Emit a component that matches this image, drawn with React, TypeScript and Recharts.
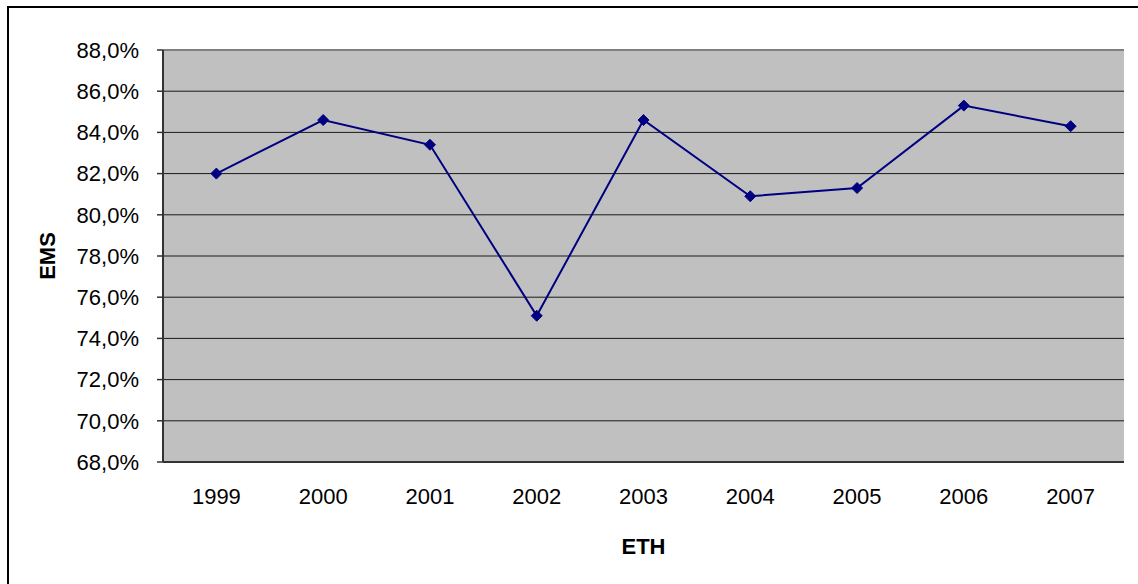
import { ComposedChart, Line, XAxis, YAxis, CartesianGrid, ReferenceLine } from "recharts";

const years = ["1999", "2000", "2001", "2002", "2003", "2004", "2005", "2006", "2007"];
const emsValues = [82.0, 84.6, 83.4, 75.1, 84.6, 80.9, 81.3, 85.3, 84.3];
const yTicks = [68, 70, 72, 74, 76, 78, 80, 82, 84, 86, 88];

const data = years.map((year, i) => ({ year, ems: emsValues[i] }));
const edgeTicks = Array.from({ length: years.length + 1 }, (_, i) => i);

const FONT = "'Liberation Sans', Arial, sans-serif";
const NAVY = "#000080";

const fmtPct = (v: number) => v.toFixed(1).replace(".", ",") + "%";

const Diamond = (props: any) => {
  const { cx, cy, index } = props;
  if (cx == null || cy == null) return null;
  const r = 5.5;
  return (
    <polygon
      key={`d-${index}`}
      points={`${cx},${cy - r} ${cx + r},${cy} ${cx},${cy + r} ${cx - r},${cy}`}
      fill={NAVY}
      stroke={NAVY}
      strokeWidth={1}
    />
  );
};

const App = () => {
  return (
    <div style={{ position: "absolute", left: 0, top: 0, width: 1138, height: 584, background: "#fff", fontFamily: FONT }}>
      <div
        style={{
          position: "absolute",
          left: 7,
          top: 6,
          width: 1160,
          height: 600,
          border: "2px solid #000",
          boxSizing: "border-box",
        }}
      />
      <div style={{ position: "absolute", left: 0, top: 0 }}>
        <ComposedChart width={1138} height={584} data={data} margin={{ top: 50, right: 14, bottom: 0, left: 0 }}>
          <CartesianGrid vertical={false} fill="#C0C0C0" fillOpacity={1} stroke="#1a1a1a" strokeWidth={1} />
          <XAxis
            xAxisId="edges"
            type="number"
            domain={[0, years.length]}
            allowDataOverflow
            ticks={edgeTicks}
            tick={false}
            axisLine={false}
            tickLine={{ stroke: "#333", strokeWidth: 1.5 }}
            tickSize={7}
            height={0}
          />
          <XAxis
            dataKey="year"
            scale="band"
            height={122}
            tickLine={false}
            tickSize={0}
            tickMargin={26}
            axisLine={{ stroke: "#333", strokeWidth: 2 }}
            tick={{ fill: "#000", fontSize: 22, fontFamily: FONT }}
            interval={0}
            label={{
              content: (p: any) => (
                <text
                  x={p.viewBox.x + p.viewBox.width / 2}
                  y={546}
                  textAnchor="middle"
                  dominantBaseline="central"
                  fontSize={22}
                  fontWeight="bold"
                  fontFamily={FONT}
                  fill="#000"
                >
                  ETH
                </text>
              ),
            }}
          />
          <YAxis
            width={163}
            domain={[68, 88]}
            ticks={yTicks}
            interval={0}
            tickFormatter={fmtPct}
            tickSize={6}
            tickMargin={18}
            tickLine={{ stroke: "#333", strokeWidth: 1.5 }}
            axisLine={{ stroke: "#333", strokeWidth: 2 }}
            tick={{ fill: "#000", fontSize: 22, fontFamily: FONT }}
            label={{
              content: (p: any) => {
                const cx = 47;
                const cy = p.viewBox.y + p.viewBox.height / 2;
                return (
                  <text
                    x={cx}
                    y={cy}
                    transform={`rotate(-90 ${cx} ${cy})`}
                    textAnchor="middle"
                    dominantBaseline="central"
                    fontSize={22}
                    fontWeight="bold"
                    fontFamily={FONT}
                    fill="#000"
                  >
                    EMS
                  </text>
                );
              },
            }}
          />
          <ReferenceLine y={88} stroke="#808080" strokeWidth={2} />
          <ReferenceLine xAxisId="edges" x={years.length} stroke="#808080" strokeWidth={2} />
          <Line
            type="linear"
            dataKey="ems"
            stroke={NAVY}
            strokeWidth={2}
            dot={Diamond}
            activeDot={false}
            isAnimationActive={false}
          />
        </ComposedChart>
      </div>
    </div>
  );
};

export default App;
